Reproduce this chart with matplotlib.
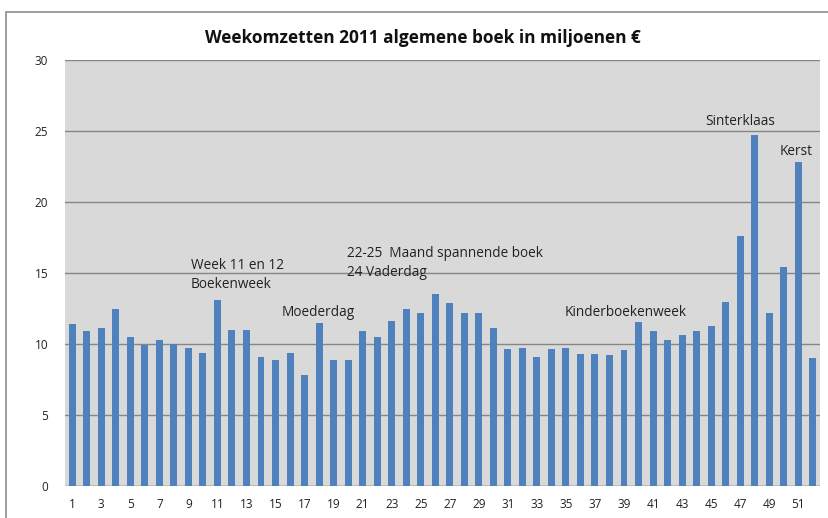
import numpy as np
import matplotlib.pyplot as plt
from matplotlib.patches import Rectangle

weeks = list(range(1, 53))
omzet = [11.4, 10.9, 11.1, 12.5, 10.5, 9.9, 10.3, 10.0, 9.7, 9.4,
         13.1, 11.0, 11.0, 9.05, 8.9, 9.4, 7.8, 11.5, 8.85, 8.9,
         10.95, 10.5, 11.6, 12.5, 12.2, 13.5, 12.9, 12.15, 12.15, 11.1,
         9.65, 9.75, 9.1, 9.65, 9.75, 9.3, 9.3, 9.2, 9.6, 11.55,
         10.95, 10.25, 10.65, 10.95, 11.3, 12.95, 17.6, 24.75, 12.2, 15.45,
         22.8, 9.0]
xtick_labels = [str(w) for w in range(1, 53, 2)]

# annotations: text, week position (left edge), value (centre)
notes = [
    ('Week 11 en 12', 9.18, 15.55),
    ('Boekenweek', 9.18, 14.2),
    ('Moederdag', 15.44, 12.2),
    ('22-25  Maand spannende boek', 19.92, 16.4),
    ('24 Vaderdag', 19.92, 15.05),
    ('Kinderboekenweek', 34.93, 12.2),
    ('Sinterklaas', 44.6, 25.65),
    ('Kerst', 49.74, 23.55),
]

plt.rcParams['font.family'] = ['Open Sans', 'DejaVu Sans']

fig = plt.figure(figsize=(8.29, 5.18), dpi=100)
fig.patches.append(Rectangle((6 / 829, -0.1), 1.0, 1 - 12 / 518 + 0.1,
                             transform=fig.transFigure, fill=False,
                             edgecolor='#8c8c8c', linewidth=1.2))
ax = fig.add_axes([65 / 829, 32 / 518, 755 / 829, 426 / 518])
ax.set_facecolor('#d9d9d9')

ax.bar(weeks, omzet, width=0.48, color='#4f81bd', zorder=3)

ax.set_xlim(0.5, 52.5)
ax.set_ylim(0, 30)
ax.set_yticks(range(0, 31, 5))
ax.set_xticks(range(1, 53, 2))
ax.set_xticklabels(xtick_labels)
ax.yaxis.grid(True, color='#868686', linewidth=1.0, zorder=1)
ax.set_axisbelow(True)
ax.tick_params(length=0, labelsize=8.5, colors='#222222')
ax.tick_params(axis='y', pad=12)
ax.tick_params(axis='x', pad=9)
for s in ax.spines.values():
    s.set_visible(False)
ax.axhline(0, color='#868686', linewidth=1.0, zorder=2)

for txt, x, y in notes:
    ax.text(x, y, txt, ha='left', va='center', fontsize=9.8, color='#222222',
            zorder=4)

fig.text(423 / 829, 1 - 38 / 518, 'Weekomzetten 2011 algemene boek in miljoenen €',
         ha='center', va='center', fontsize=12.4, fontweight='bold', color='#111111')

fig.savefig('out.png', dpi=100)
